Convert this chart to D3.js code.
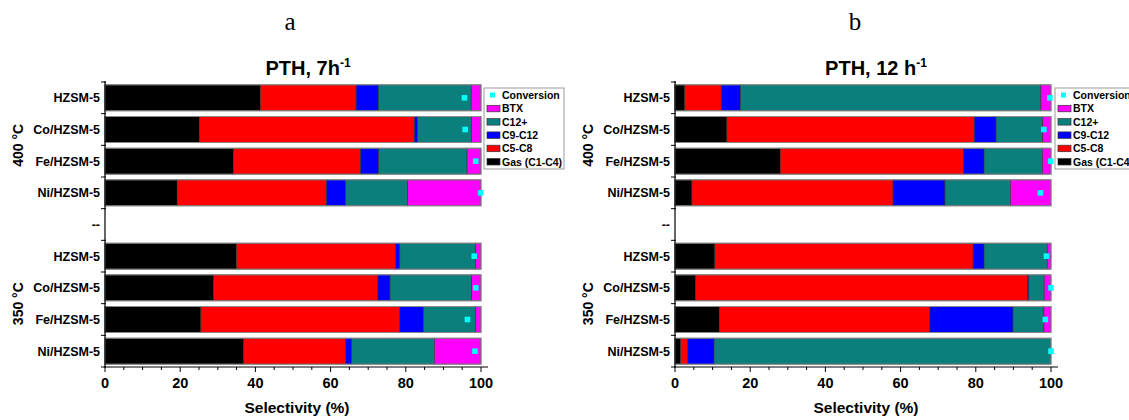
<!DOCTYPE html>
<html><head><meta charset="utf-8">
<script src="https://cdn.jsdelivr.net/npm/d3@7"></script>
<style>
body{margin:0;background:#fff;}
svg text{font-family:"Liberation Sans",Arial,sans-serif;}
</style></head>
<body><svg id="c" width="1129" height="420"></svg>
<script>
// ---- data ----
const categories = ["HZSM-5","Co/HZSM-5","Fe/HZSM-5","Ni/HZSM-5","--","HZSM-5","Co/HZSM-5","Fe/HZSM-5","Ni/HZSM-5"];
const seriesNames = ["Gas (C1-C4)","C5-C8","C9-C12","C12+","BTX"];
const seriesColors = ["#000000","#ff0000","#0000ff","#0a7f7b","#ff00ff"];
const conversionColor = "#00ffff";
const xTicks = [0,20,40,60,80,100];

// Panel a: PTH, 7 h-1 (segment sizes, %; null = separator row)
const gasA   = [41.3,25.1,34.2,19.2,null,35.0,28.9,25.5,36.9];
const c5c8A  = [25.5,57.2,33.8,39.7,null,42.3,43.7,52.9,27.1];
const c9c12A = [5.9,0.8,4.8,5.1,null,1.1,3.2,6.3,1.6];
const c12A   = [24.7,14.4,23.5,16.5,null,20.2,21.7,13.9,22.0];
const btxA   = [2.6,2.5,3.7,19.5,null,1.4,2.5,1.4,12.4];
const convA  = [95.6,95.8,98.6,99.9,null,98.2,98.6,96.4,98.4];

// Panel b: PTH, 12 h-1
const gasB   = [2.6,13.8,28.0,4.5,null,10.6,5.5,11.8,1.5];
const c5c8B  = [9.7,65.8,48.7,53.5,null,68.7,88.3,56.0,1.9];
const c9c12B = [5.1,5.8,5.5,13.8,null,2.9,0.3,22.1,7.0];
const c12B   = [79.9,12.4,15.5,17.4,null,16.8,4.1,8.2,89.6];
const btxB   = [2.7,2.2,2.3,10.8,null,1.0,1.8,1.9,0.0];
const convB  = [99.7,98.1,99.9,97.2,null,98.8,100,98.5,100];

const panels = [
  {letter:"a", title:"PTH, 7h", sup:"-1", x0:105, letterX:290, titleX:308, axisTitleX:297,
   series:[gasA,c5c8A,c9c12A,c12A,btxA], conv:convA, legendX:484},
  {letter:"b", title:"PTH, 12 h", sup:"-1", x0:675, letterX:855, titleX:876, axisTitleX:866,
   series:[gasB,c5c8B,c9c12B,c12B,btxB], conv:convB, legendX:1055}
];

const svg = d3.select("#c");
const plotW = 376, yTop = 82, yBot = 367;

panels.forEach(p => {
  const g = svg.append("g");
  const x = d3.scaleLinear().domain([0,100]).range([p.x0, p.x0 + plotW]);
  const idx = categories.map((c,i)=>i);
  const y = d3.scaleBand().domain(idx).range([yTop,yBot]).paddingInner(0.18).paddingOuter(0.09);

  // table for stacking
  const rows = idx.filter(i => p.series[0][i] !== null).map(i => {
    const r = {i};
    seriesNames.forEach((s,k) => r[s] = p.series[k][i]);
    return r;
  });
  const stacked = d3.stack().keys(seriesNames)(rows);

  stacked.forEach((layer,k) => {
    g.selectAll(null).data(layer).enter().append("rect")
      .attr("x", d => x(d[0]))
      .attr("y", d => y(d.data.i))
      .attr("width", d => Math.max(0, x(d[1]) - x(d[0])))
      .attr("height", y.bandwidth())
      .attr("fill", seriesColors[k])
      .attr("stroke", "#333").attr("stroke-width", 0.6);
  });
  // outline
  g.selectAll(null).data(rows).enter().append("rect")
    .attr("x", x(0)).attr("y", d => y(d.i))
    .attr("width", x(100)-x(0)).attr("height", y.bandwidth())
    .attr("fill","none").attr("stroke","#8a8a8a").attr("stroke-width",1);

  // conversion markers
  g.selectAll(null).data(idx.filter(i => p.conv[i] !== null)).enter().append("rect")
    .attr("x", i => x(p.conv[i]) - 2.8)
    .attr("y", i => y(i) + y.bandwidth()/2 - 2.8)
    .attr("width", 5.6).attr("height", 5.6)
    .attr("fill", conversionColor);

  // y axis
  g.append("line").attr("x1",x(0)).attr("x2",x(0)).attr("y1",yTop-1).attr("y2",yBot)
    .attr("stroke","#000").attr("stroke-width",1.2);
  const bounds = d3.range(categories.length+1).map(k => yTop + k*y.step());
  g.selectAll(null).data(bounds).enter().append("line")
    .attr("x1",x(0)-4).attr("x2",x(0)+1).attr("y1",d=>d).attr("y2",d=>d)
    .attr("stroke","#000").attr("stroke-width",1);
  g.selectAll(null).data(idx).enter().append("text")
    .attr("x", x(0)-5).attr("y", i => y(i)+y.bandwidth()/2+4.5)
    .attr("text-anchor","end").attr("font-weight","bold").attr("font-size",12.5)
    .text(i => categories[i]);

  // temperature group labels
  [["400 °C", yTop + 2*y.step()], ["350 °C", yTop + 7*y.step()]].forEach(([t,cy]) => {
    g.append("text").attr("transform",`translate(${x(0)-82},${cy}) rotate(-90)`)
      .attr("text-anchor","middle").attr("font-weight","bold").attr("font-size",14)
      .text(t);
  });

  // x axis
  g.append("line").attr("x1",x(0)-1).attr("x2",x(100)+7).attr("y1",yBot).attr("y2",yBot)
    .attr("stroke","#000").attr("stroke-width",1.2);
  const minor = d3.range(0,101,5);
  g.selectAll(null).data(minor).enter().append("line")
    .attr("x1",d=>x(d)).attr("x2",d=>x(d)).attr("y1",yBot)
    .attr("y2",d => yBot + (d%20===0 ? 5 : 3))
    .attr("stroke","#000").attr("stroke-width",1);
  g.selectAll(null).data(xTicks).enter().append("text")
    .attr("x",d=>x(d)).attr("y",388).attr("text-anchor","middle")
    .attr("font-weight","bold").attr("font-size",14.5).text(d=>d);
  g.append("text").attr("x",p.axisTitleX).attr("y",413).attr("text-anchor","middle")
    .attr("font-weight","bold").attr("font-size",15.5).text("Selectivity (%)");

  // titles
  g.append("text").attr("x",p.letterX).attr("y",30).attr("text-anchor","middle")
    .attr("font-family","Liberation Serif, Times New Roman, serif").attr("font-size",25)
    .style("font-family","'Liberation Serif','Times New Roman',serif").text(p.letter);
  const t = g.append("text").attr("x",p.titleX).attr("y",75).attr("text-anchor","middle")
    .attr("font-weight","bold").attr("font-size",20);
  t.append("tspan").text(p.title);
  t.append("tspan").attr("dy",-8).attr("font-size",12).text(p.sup);

  // legend
  const lx = p.legendX, ly = 88;
  g.append("rect").attr("x",lx).attr("y",ly).attr("width",80).attr("height",81)
    .attr("fill","#fff").attr("stroke","#999").attr("stroke-width",1);
  const legItems = [{name:"Conversion", conv:true}].concat(
    [4,3,2,1,0].map(k => ({name:seriesNames[k], color:seriesColors[k]})));
  legItems.forEach((it,j) => {
    const cy = ly + 7 + j*13.3;
    if (it.conv) {
      g.append("rect").attr("x",lx+6).attr("y",cy-2.5).attr("width",5).attr("height",5).attr("fill",conversionColor);
    } else {
      g.append("rect").attr("x",lx+3).attr("y",cy-3).attr("width",13).attr("height",6.5)
        .attr("fill",it.color).attr("stroke","#333").attr("stroke-width",0.7);
    }
    g.append("text").attr("x",lx+18).attr("y",cy+4).attr("font-weight","bold")
      .attr("font-size",10.5).text(it.name);
  });
});
</script></body></html>
